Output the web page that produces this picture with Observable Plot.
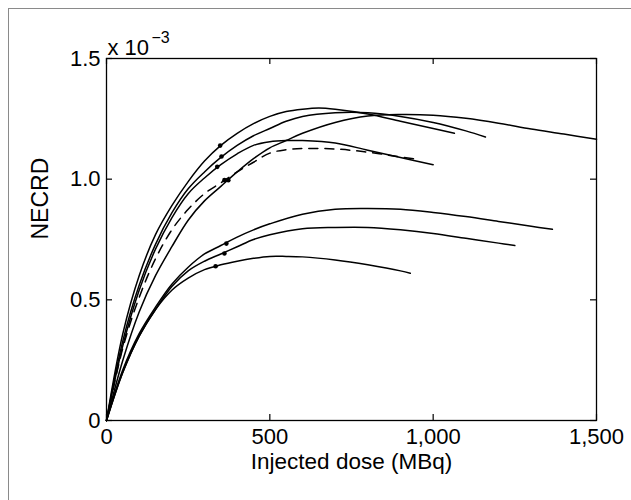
<!DOCTYPE html>
<html><head><meta charset="utf-8">
<script src="https://cdn.jsdelivr.net/npm/d3@7"></script>
<script src="https://cdn.jsdelivr.net/npm/@observablehq/plot@0.6"></script>
<style>
body{margin:0;background:#fff;overflow:hidden}
#wrap{position:relative;width:631px;height:500px}
#frame{position:absolute;left:8px;top:8px;width:640px;height:520px;border:1.5px solid #8a8a8a;box-sizing:border-box}
#chart{position:absolute;left:0;top:0}
</style></head>
<body><div id="wrap"><div id="frame"></div><div id="chart"></div></div>
<script>
// Curve A (highest peak)
const doseA = [0,50,100,150,200,250,300,350,400,450,500,550,600,650,700,800,900,1000,1065];
const necrA = [0,0.36,0.60,0.77,0.89,0.99,1.075,1.14,1.19,1.23,1.26,1.28,1.29,1.295,1.29,1.27,1.24,1.21,1.19];
// Curve B
const doseB = [0,50,100,150,200,250,300,350,400,450,500,550,600,700,800,900,1000,1100,1160];
const necrB = [0,0.33,0.56,0.73,0.86,0.96,1.03,1.09,1.14,1.18,1.21,1.24,1.26,1.275,1.275,1.26,1.235,1.20,1.175];
// Curve C (longest)
const doseC = [0,50,100,150,200,250,300,350,400,450,500,550,600,700,800,900,1000,1100,1200,1300,1400,1500];
const necrC = [0,0.25,0.45,0.60,0.72,0.83,0.91,0.97,1.03,1.085,1.13,1.16,1.19,1.235,1.262,1.268,1.265,1.252,1.232,1.208,1.187,1.165];
// Curve D
const doseD = [0,50,100,150,200,250,300,350,400,450,500,550,600,700,800,900,1000];
const necrD = [0,0.31,0.54,0.71,0.84,0.94,1.005,1.06,1.105,1.14,1.155,1.16,1.16,1.15,1.12,1.09,1.06];
// Curve E (dashed)
const doseE = [0,50,100,150,200,250,300,350,400,450,500,550,600,700,800,900,950];
const necrE = [0,0.30,0.51,0.67,0.79,0.875,0.94,0.985,1.03,1.07,1.108,1.122,1.127,1.125,1.112,1.092,1.083];
// Curve F
const doseF = [0,50,100,150,200,250,300,350,400,450,500,600,700,800,900,1000,1100,1200,1300,1365];
const necrF = [0,0.21,0.36,0.47,0.565,0.635,0.69,0.725,0.76,0.79,0.815,0.855,0.875,0.878,0.875,0.862,0.845,0.825,0.805,0.792];
// Curve G
const doseG = [0,50,100,150,200,250,300,350,400,450,500,600,700,800,900,1000,1100,1200,1250];
const necrG = [0,0.20,0.35,0.46,0.555,0.62,0.66,0.69,0.72,0.75,0.77,0.795,0.80,0.80,0.79,0.775,0.755,0.735,0.725];
// Curve H
const doseH = [0,50,100,150,200,250,300,350,400,450,500,550,600,700,800,900,930];
const necrH = [0,0.20,0.35,0.46,0.54,0.59,0.625,0.645,0.66,0.672,0.68,0.68,0.678,0.665,0.645,0.62,0.61];
// Marked points
const dotDose = [348,352,373,339,361,367,361,334];
const dotNecr = [1.139,1.094,0.996,1.051,0.996,0.733,0.692,0.639];
// Ticks
const xTicks = [0,500,1000,1500];
const yTicks = [0,0.5,1.0,1.5];

const curves = [
  {id:"A", dose:doseA, necr:necrA, dashed:false},
  {id:"B", dose:doseB, necr:necrB, dashed:false},
  {id:"C", dose:doseC, necr:necrC, dashed:false},
  {id:"D", dose:doseD, necr:necrD, dashed:false},
  {id:"E", dose:doseE, necr:necrE, dashed:true},
  {id:"F", dose:doseF, necr:necrF, dashed:false},
  {id:"G", dose:doseG, necr:necrG, dashed:false},
  {id:"H", dose:doseH, necr:necrH, dashed:false}
];
const solidRows = curves.filter(c=>!c.dashed).flatMap(c=>c.dose.map((d,i)=>({id:c.id,dose:d,necr:c.necr[i]})));
const dashRows = curves.filter(c=>c.dashed).flatMap(c=>c.dose.map((d,i)=>({id:c.id,dose:d,necr:c.necr[i]})));
const dots = dotDose.map((d,i)=>({dose:d,necr:dotNecr[i]}));

const W=631,H=500,mL=106,mR=35,mT=58,mB=80;
const pw=W-mL-mR, ph=H-mT-mB, tk=6;
const font = "'Liberation Sans', Arial, Helvetica, sans-serif";

const chart = Plot.plot({
  width:W, height:H, marginLeft:mL, marginRight:mR, marginTop:mT, marginBottom:mB,
  style:{fontFamily:font, fontSize:"22px", background:"transparent", color:"#000"},
  x:{domain:[0,1500]},
  y:{domain:[0,1.5]},
  marks:[
    Plot.line(solidRows,{x:"dose",y:"necr",z:"id",stroke:"#000",strokeWidth:1.5,curve:"catmull-rom"}),
    Plot.line(dashRows,{x:"dose",y:"necr",z:"id",stroke:"#000",strokeWidth:1.5,strokeDasharray:"9,7",curve:"catmull-rom"}),
    Plot.dot(dots,{x:"dose",y:"necr",r:2.3,fill:"#000",stroke:"none"}),
    Plot.ruleX(xTicks,{x:d=>d,insetTop:ph-tk,stroke:"#000",strokeWidth:1.2}),
    Plot.ruleX(xTicks,{x:d=>d,insetBottom:ph-tk,stroke:"#000",strokeWidth:1.2}),
    Plot.ruleY(yTicks,{y:d=>d,insetRight:pw-tk,stroke:"#000",strokeWidth:1.2}),
    Plot.ruleY(yTicks,{y:d=>d,insetLeft:pw-tk,stroke:"#000",strokeWidth:1.2}),
    Plot.frame({stroke:"#000",strokeWidth:1.3}),
    Plot.axisX(xTicks,{tickSize:0,tickPadding:8,fontSize:22,tickFormat:d3.format(","),label:null}),
    Plot.axisY(yTicks,{tickSize:0,tickPadding:6,fontSize:22,tickFormat:d=>d===0?"0":d.toFixed(1),label:null}),
    Plot.text(["Injected dose (MBq)"],{frameAnchor:"bottom",text:d=>d,dy:48,fontSize:22.5,fill:"#000"}),
    Plot.text(["NECRD"],{frameAnchor:"left",text:d=>d,dx:-66,rotate:-90,fontSize:23,fill:"#000"}),
    Plot.text(["x 10"],{frameAnchor:"top-left",text:d=>d,dx:1,dy:-4,lineAnchor:"bottom",fontSize:22,textAnchor:"start",fill:"#000"}),
    Plot.text(["\u22123"],{frameAnchor:"top-left",text:d=>d,dx:45,dy:-16,lineAnchor:"bottom",fontSize:16,textAnchor:"start",fill:"#000"})
  ]
});
document.getElementById("chart").appendChild(chart);
</script></body></html>
